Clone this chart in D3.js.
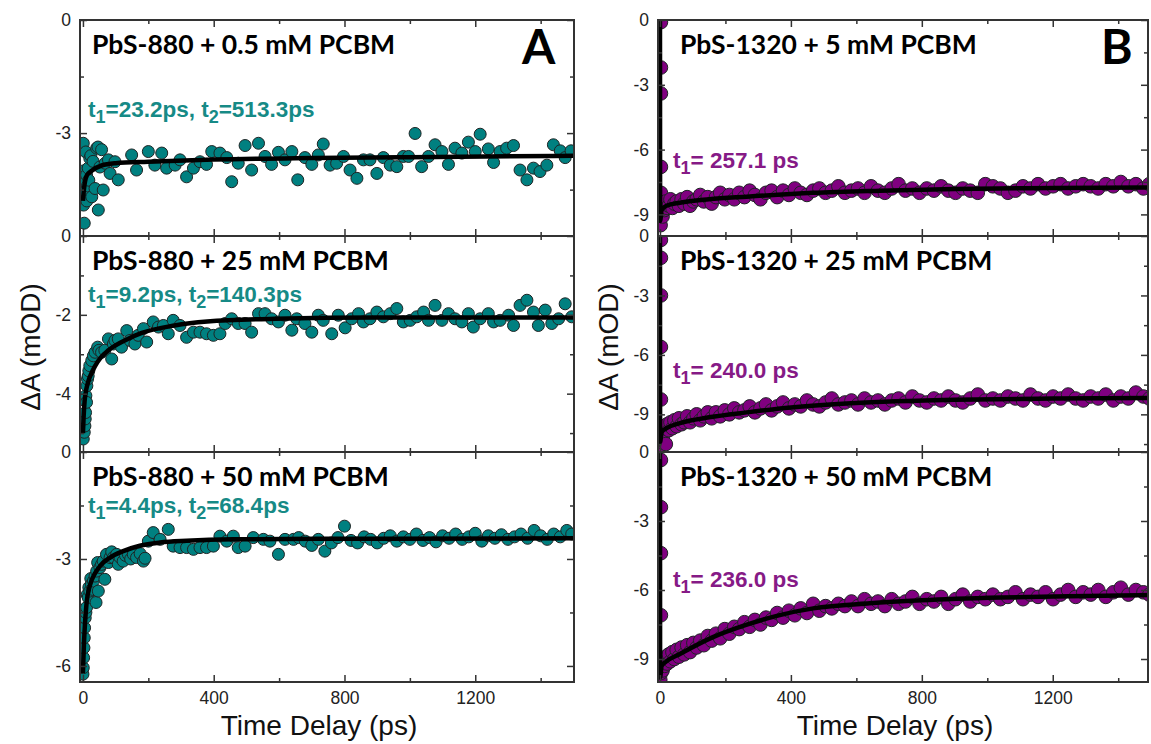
<!DOCTYPE html>
<html>
<head>
<meta charset="utf-8">
<script src="https://cdn.jsdelivr.net/npm/d3@7"></script>
<style>
  body { margin: 0; background: #fff; }
  .tick text { font-family: "Liberation Sans", Arial, sans-serif; font-size: 17.5px; fill: #222; }
  .tick line { stroke: #333; stroke-width: 1.5; }
  .domain { stroke: none; }
</style>
</head>
<body>
<script>
// ---- data ----
var titlesA = ["PbS-880 + 0.5 mM PCBM", "PbS-880 + 25 mM PCBM", "PbS-880 + 50 mM PCBM"];
var titlesB = ["PbS-1320 + 5 mM PCBM", "PbS-1320 + 25 mM PCBM", "PbS-1320 + 50 mM PCBM"];
var tau1A = ["23.2", "9.2", "4.4"];
var tau2A = ["513.3", "140.3", "68.4"];
var tau1B = ["257.1", "240.0", "236.0"];

var xTicks = [0, 400, 800, 1200];
var xMinor = [200, 600, 1000, 1400];

// y ticks for each subplot
var yTicksA = [[0, -3], [0, -2, -4], [0, -3, -6]];
var yMinorA = [[-1.5, -4.5], [-1, -3, -5], [-1.5, -4.5]];
var yDomainA = [[-5.73, 0], [-5.48, 0], [-6.45, 0]];
var yTicksB = [[0, -3, -6, -9], [0, -3, -6, -9], [0, -3, -6, -9]];
var yMinorB = [[-1.5, -4.5, -7.5], [-1.5, -4.5, -7.5, -10.5], [-1.5, -4.5, -7.5]];
var yDomainB = [[-10, 0], [-10.9, 0], [-10, 0]];

// panel A scatter (time ps, dA mOD)
var a1Points = [[0,-4.55],[1,-3.27],[2,-4.91],[3,-4.0],[4,-5.39],[6,-4.29],[7,-4.55],[9,-3.5],[11,-4.11],[12,-4.8],[14,-4.4],[16,-3.93],[18,-4.25],[21,-3.67],[24,-3.6],[27,-4.69],[31,-3.75],[37,-4.47],[42,-3.40],[46,-3.37],[47,-5.04],[52,-3.9],[57,-3.44],[62,-4.51],[68,-3.8],[78,-3.71],[83,-4.07],[98,-3.76],[108,-4.24],[149,-3.58],[164,-3.98],[200,-3.49],[220,-3.85],[241,-3.53],[256,-3.93],[282,-3.85],[297,-3.71],[317,-4.16],[338,-3.93],[358,-3.76],[378,-3.83],[394,-3.49],[419,-3.53],[440,-3.65],[455,-4.29],[475,-3.80],[496,-3.33],[516,-3.98],[537,-3.27],[557,-3.62],[577,-3.83],[598,-3.51],[618,-3.71],[639,-3.49],[657,-4.24],[679,-3.65],[700,-3.83],[720,-3.58],[735,-3.29],[756,-3.85],[776,-3.80],[797,-3.62],[817,-3.98],[838,-4.20],[858,-3.71],[878,-3.71],[899,-4.07],[919,-3.65],[940,-3.85],[960,-3.89],[980,-3.62],[996,-3.62],[1016,-3.01],[1036,-3.89],[1057,-3.62],[1077,-3.31],[1098,-3.49],[1118,-3.83],[1138,-3.40],[1159,-3.53],[1179,-3.24],[1200,-3.49],[1215,-3.03],[1240,-3.42],[1256,-3.78],[1276,-3.49],[1296,-3.40],[1317,-3.33],[1337,-3.98],[1358,-4.24],[1378,-3.93],[1398,-4.02],[1419,-3.85],[1439,-3.31],[1460,-3.47],[1475,-3.65],[1493,-3.47]];
var a1Fit = [[0,-4.8],[3,-4.5],[6,-4.3],[12,-4.12],[27,-4.0],[57,-3.86],[100,-3.8],[200,-3.76],[400,-3.7],[700,-3.66],[1000,-3.64],[1500,-3.6]];

var a2Points = [[1,-5.15],[4,-4.98],[6,-4.82],[7,-4.64],[8,-4.48],[9,-4.05],[11,-4.22],[12,-3.80],[14,-3.63],[16,-3.55],[18,-3.42],[21,-3.29],[27,-3.16],[32,-3.04],[37,-2.95],[45,-2.82],[49,-2.90],[57,-2.95],[67,-2.90],[78,-2.61],[88,-3.12],[93,-2.74],[98,-2.65],[108,-2.61],[118,-2.82],[134,-2.40],[144,-2.65],[159,-2.74],[169,-2.52],[185,-2.35],[195,-2.69],[215,-2.18],[231,-2.31],[246,-2.27],[261,-2.48],[276,-2.14],[297,-2.27],[317,-2.57],[338,-2.44],[358,-2.44],[378,-2.48],[399,-2.52],[419,-2.48],[435,-2.22],[455,-2.10],[475,-2.22],[496,-2.22],[516,-2.44],[537,-1.97],[557,-1.97],[577,-2.10],[598,-2.18],[618,-2.01],[639,-2.39],[654,-2.10],[679,-2.22],[700,-2.44],[720,-2.01],[735,-2.14],[761,-2.48],[781,-2.01],[802,-2.33],[822,-2.10],[843,-1.97],[858,-2.18],[878,-2.10],[899,-1.93],[919,-2.05],[940,-1.97],[960,-1.84],[980,-2.18],[1001,-2.14],[1021,-2.05],[1042,-1.93],[1057,-2.14],[1077,-1.76],[1098,-2.14],[1118,-1.97],[1138,-2.10],[1159,-2.18],[1179,-1.97],[1194,-2.31],[1215,-2.10],[1240,-1.97],[1256,-2.18],[1276,-2.14],[1302,-2.01],[1317,-2.27],[1337,-1.76],[1358,-1.63],[1378,-1.93],[1393,-2.27],[1414,-1.88],[1434,-2.22],[1455,-2.10],[1475,-1.72],[1495,-2.05]];
var a2Fit = [[0,-5.0],[2,-4.6],[5,-4.2],[10,-3.9],[16,-3.7],[25,-3.5],[37,-3.3],[55,-3.08],[78,-2.9],[128,-2.65],[180,-2.46],[280,-2.27],[380,-2.17],[590,-2.1],[900,-2.07],[1500,-2.07]];

var a3Points = [[0,-6.23],[1,-6.05],[2,-5.77],[3,-5.49],[4,-5.21],[5,-4.93],[7,-4.65],[9,-4.5],[11,-4.36],[13,-4.0],[16,-4.08],[18,-3.8],[21,-3.90],[24,-3.55],[26,-3.71],[28,-3.85],[32,-3.62],[37,-3.48],[40,-4.22],[42,-3.34],[45,-3.1],[47,-3.90],[52,-3.24],[57,-3.15],[62,-3.06],[67,-3.57],[72,-2.87],[78,-3.1],[83,-2.96],[88,-2.8],[93,-2.96],[103,-2.87],[108,-3.15],[113,-2.95],[123,-3.06],[130,-2.9],[139,-2.87],[146,-3.0],[154,-2.87],[164,-2.96],[175,-2.85],[185,-3.06],[190,-2.98],[200,-2.50],[215,-2.26],[236,-2.45],[261,-2.17],[276,-2.64],[297,-2.68],[317,-2.68],[338,-2.73],[358,-2.68],[378,-2.68],[399,-2.64],[419,-2.36],[440,-2.50],[460,-2.36],[475,-2.68],[496,-2.64],[521,-2.40],[552,-2.45],[572,-2.50],[598,-2.87],[618,-2.45],[644,-2.45],[660,-2.40],[680,-2.50],[700,-2.62],[720,-2.45],[740,-2.78],[760,-2.55],[780,-2.40],[800,-2.08],[820,-2.48],[840,-2.55],[860,-2.38],[880,-2.45],[900,-2.55],[920,-2.42],[940,-2.35],[960,-2.50],[980,-2.38],[1000,-2.45],[1020,-2.30],[1040,-2.48],[1060,-2.40],[1080,-2.52],[1100,-2.35],[1120,-2.42],[1140,-2.30],[1160,-2.45],[1180,-2.38],[1200,-2.28],[1220,-2.50],[1240,-2.35],[1260,-2.42],[1280,-2.32],[1300,-2.45],[1320,-2.38],[1340,-2.30],[1360,-2.42],[1380,-2.20],[1400,-2.35],[1420,-2.45],[1440,-2.30],[1460,-2.38],[1480,-2.20],[1495,-2.30]];
var a3Fit = [[0,-6.2],[3,-5.4],[6,-4.85],[11,-4.25],[21,-3.75],[37,-3.4],[52,-3.2],[83,-2.96],[123,-2.78],[174,-2.63],[236,-2.54],[317,-2.49],[460,-2.45],[900,-2.43],[1500,-2.42]];

// panel B: shared time grid for the dense band, plus the early spike points
var tBand = [1,2,4,6,8,11,14,18,22,27,32,38,44,51,58,66,74,83,92,102,112,123,134,146,158,171,184,198,212,227,242,258,274,290,307,324,341,358,376,394,412,430,449,468,487,506,525,545,565,585,605,625,645,666,687,708,729,750,771,793,815,837,859,881,903,925,948,971,994,1017,1040,1063,1086,1109,1132,1155,1178,1201,1224,1247,1270,1293,1316,1339,1362,1385,1408,1431,1454,1477,1495];
var b1Band = [-9.2,-9.5,-8.9,-8.7,-9.1,-8.5,-8.8,-8.4,-8.7,-8.6,-8.3,-8.7,-8.5,-8.4,-8.6,-8.3,-8.5,-8.2,-8.6,-8.4,-8.3,-8.1,-8.4,-8.2,-8.5,-8.2,-8.0,-8.3,-8.1,-8.3,-8.0,-8.2,-7.9,-8.1,-8.3,-8.0,-7.9,-8.2,-7.9,-8.1,-7.8,-8.0,-8.1,-7.9,-7.8,-8.0,-7.9,-7.7,-8.0,-7.9,-7.8,-8.0,-7.7,-7.9,-8.0,-7.8,-7.6,-7.9,-7.8,-8.0,-7.8,-7.9,-7.7,-7.9,-8.0,-7.8,-7.9,-8.0,-7.6,-7.7,-7.8,-8.0,-7.9,-7.7,-7.8,-7.6,-7.8,-7.7,-7.6,-7.8,-7.7,-7.6,-7.7,-7.8,-7.6,-7.7,-7.5,-7.7,-7.6,-7.8,-7.6];
var b2Band = [-10.6,-10.2,-9.9,-10.4,-9.6,-10.0,-9.7,-10.5,-9.5,-9.8,-9.4,-9.7,-9.3,-9.6,-9.2,-9.5,-9.4,-9.1,-9.4,-9.2,-9.0,-9.3,-9.1,-8.9,-9.2,-8.9,-9.1,-8.8,-9.0,-8.7,-8.9,-8.8,-8.6,-8.9,-8.7,-8.5,-8.8,-8.6,-8.4,-8.7,-8.5,-8.6,-8.3,-8.5,-8.6,-8.4,-8.2,-8.5,-8.4,-8.3,-8.5,-8.2,-8.4,-8.3,-8.5,-8.3,-8.2,-8.4,-8.1,-8.3,-8.4,-8.2,-8.3,-8.1,-8.3,-8.4,-8.2,-8.0,-8.3,-8.2,-8.3,-8.1,-8.2,-8.3,-8.0,-8.2,-8.3,-8.1,-8.2,-8.0,-8.2,-8.3,-8.1,-8.2,-8.0,-8.3,-8.1,-8.2,-7.9,-8.1,-8.2];
var b3Band = [-9.9,-9.4,-9.6,-9.1,-9.5,-9.0,-9.3,-8.9,-9.2,-8.8,-9.1,-8.7,-9.0,-8.6,-8.9,-8.5,-8.8,-8.4,-8.7,-8.3,-8.5,-8.2,-8.4,-8.0,-8.2,-7.9,-8.1,-7.7,-7.9,-7.6,-7.7,-7.4,-7.6,-7.3,-7.5,-7.2,-7.3,-7.0,-7.2,-6.9,-7.1,-6.8,-7.0,-6.6,-6.9,-6.7,-6.8,-6.6,-6.7,-6.5,-6.7,-6.4,-6.6,-6.5,-6.7,-6.4,-6.6,-6.5,-6.3,-6.6,-6.4,-6.5,-6.3,-6.6,-6.4,-6.2,-6.5,-6.3,-6.4,-6.2,-6.4,-6.3,-6.1,-6.4,-6.2,-6.3,-6.1,-6.4,-6.2,-6.0,-6.3,-6.1,-6.2,-6.0,-6.3,-6.1,-5.9,-6.2,-6.0,-6.1,-6.2];
var b1Spike = [[3,-0.1],[3,-2.2],[3,-3.4],[3,-6.8],[3,-8.0]];
var b2Spike = [[3,-0.2],[3,-1.1],[3,-3.0],[3,-5.6],[3,-8.25]];
var b3Spike = [[3,-0.35],[3,-2.4],[3,-4.4],[3,-7.1]];
var b1Fit = [[-6,0],[0,0],[0.5,-9.3],[5,-8.8],[20,-8.6],[61,-8.46],[150,-8.3],[265,-8.18],[468,-8.0],[672,-7.9],[900,-7.82],[1200,-7.78],[1500,-7.75]];
var b2Fit = [[-6,0],[0,0],[0.5,-10.4],[5,-9.9],[20,-9.7],[61,-9.44],[150,-9.15],[265,-8.9],[400,-8.65],[570,-8.45],[700,-8.35],[900,-8.26],[1200,-8.2],[1500,-8.17]];
var b3Fit = [[-6,0],[0,0],[0.5,-9.8],[5,-9.3],[20,-9.1],[61,-8.78],[162,-8.05],[263,-7.52],[366,-7.09],[468,-6.8],[641,-6.58],[800,-6.45],[1040,-6.33],[1250,-6.27],[1500,-6.22]];

// ---- layout ----
var svg = d3.select("body").append("svg")
  .attr("width", 1151)
  .attr("height", 744);

var rowTops = [20, 236, 452];
var rowBottoms = [236, 452, 682];

var teal = "#008080", purple = "#800080";

function bandPoints(spike, band) {
  return spike.concat(tBand.map(function(t, i) { return [t, band[i]]; }).filter(function(d) { return d[1] !== undefined; }));
}

var subplots = [
  {left: 80, right: 574, xDomain: [-9, 1502], row: 0, pts: a1Points, fit: a1Fit, color: teal, r: 6},
  {left: 80, right: 574, xDomain: [-9, 1502], row: 1, pts: a2Points, fit: a2Fit, color: teal, r: 6},
  {left: 80, right: 574, xDomain: [-9, 1502], row: 2, pts: a3Points, fit: a3Fit, color: teal, r: 6},
  {left: 658, right: 1148, xDomain: [-6, 1491], row: 0, pts: bandPoints(b1Spike, b1Band), fit: b1Fit, color: purple, r: 6.8},
  {left: 658, right: 1148, xDomain: [-6, 1491], row: 1, pts: bandPoints(b2Spike, b2Band), fit: b2Fit, color: purple, r: 6.8},
  {left: 658, right: 1148, xDomain: [-6, 1491], row: 2, pts: bandPoints(b3Spike, b3Band), fit: b3Fit, color: purple, r: 6.8}
];

var plainFormat = d => String(d);

subplots.forEach(function(s, i) {
  var isA = i < 3;
  var top = rowTops[s.row], bottom = rowBottoms[s.row];
  var yDom = isA ? yDomainA[s.row] : yDomainB[s.row];
  var yTk = isA ? yTicksA[s.row] : yTicksB[s.row];
  var yMn = isA ? yMinorA[s.row] : yMinorB[s.row];

  var x = d3.scaleLinear().domain(s.xDomain).range([s.left, s.right]);
  var y = d3.scaleLinear().domain(yDom).range([bottom, top]);

  var g = svg.append("g");
  var clipId = "clip" + i;
  svg.append("clipPath").attr("id", clipId)
    .append("rect")
    .attr("x", s.left).attr("y", top)
    .attr("width", s.right - s.left).attr("height", bottom - top);

  var plot = g.append("g").attr("clip-path", "url(#" + clipId + ")");

  plot.selectAll("circle")
    .data(s.pts)
    .enter()
    .append("circle")
    .attr("cx", d => x(d[0]))
    .attr("cy", d => y(d[1]))
    .attr("r", s.r)
    .attr("fill", s.color)
    .attr("stroke", "#1e2424")
    .attr("stroke-width", 1);

  var line = d3.line()
    .x(d => x(d[0]))
    .y(d => y(d[1]))
    .curve(d3.curveMonotoneX);

  plot.append("path")
    .datum(s.fit)
    .attr("d", line)
    .attr("fill", "none")
    .attr("stroke", "#000")
    .attr("stroke-width", 4.5);

  // y ticks, inward on both sides
  g.append("g")
    .attr("transform", `translate(${s.left},0)`)
    .call(d3.axisLeft(y).tickValues(yTk).tickSizeInner(-7).tickSizeOuter(0).tickPadding(9).tickFormat(plainFormat));
  g.append("g")
    .attr("transform", `translate(${s.left},0)`)
    .call(d3.axisLeft(y).tickValues(yMn).tickSizeInner(-4).tickSizeOuter(0).tickFormat(""));
  g.append("g")
    .attr("transform", `translate(${s.right},0)`)
    .call(d3.axisRight(y).tickValues(yTk).tickSizeInner(-7).tickSizeOuter(0).tickFormat(""));
  g.append("g")
    .attr("transform", `translate(${s.right},0)`)
    .call(d3.axisRight(y).tickValues(yMn).tickSizeInner(-4).tickSizeOuter(0).tickFormat(""));

  // x ticks top and bottom
  var showX = s.row === 2;
  g.append("g")
    .attr("transform", `translate(0,${bottom})`)
    .call(d3.axisBottom(x).tickValues(xTicks).tickSizeInner(-7).tickSizeOuter(0).tickPadding(10)
      .tickFormat(showX ? plainFormat : ""));
  g.append("g")
    .attr("transform", `translate(0,${bottom})`)
    .call(d3.axisBottom(x).tickValues(xMinor).tickSizeInner(-4).tickSizeOuter(0).tickFormat(""));
  g.append("g")
    .attr("transform", `translate(0,${top})`)
    .call(d3.axisTop(x).tickValues(xTicks).tickSizeInner(-7).tickSizeOuter(0).tickFormat(""));
  g.append("g")
    .attr("transform", `translate(0,${top})`)
    .call(d3.axisTop(x).tickValues(xMinor).tickSizeInner(-4).tickSizeOuter(0).tickFormat(""));

  // frame
  g.append("rect")
    .attr("x", s.left).attr("y", top)
    .attr("width", s.right - s.left).attr("height", bottom - top)
    .attr("fill", "none")
    .attr("stroke", "#333")
    .attr("stroke-width", 2);

  // sample title
  g.append("text")
    .attr("x", isA ? s.left + 12 : s.left + 22)
    .attr("y", top + 34)
    .attr("font-family", "Lato, 'Open Sans', sans-serif")
    .attr("font-weight", 700)
    .attr("font-size", "26.5px")
    .attr("fill", "#000")
    .text(isA ? titlesA[s.row] : titlesB[s.row]);

  // lifetime annotation
  var noteY = isA ? [117, 302, 513][s.row] : [168, 378, 587][s.row];
  var note = g.append("text")
    .attr("x", isA ? s.left + 8 : s.left + 15)
    .attr("y", noteY)
    .attr("font-family", "'Liberation Sans', Arial, sans-serif")
    .attr("font-weight", 700)
    .attr("font-size", "22.5px")
    .attr("fill", isA ? "#168a86" : "#861a86");
  note.append("tspan").text("t");
  note.append("tspan").attr("dy", 6).attr("font-size", "18px").text("1");
  if (isA) {
    note.append("tspan").attr("dy", -6).text("=" + tau1A[s.row] + "ps, t");
    note.append("tspan").attr("dy", 6).attr("font-size", "18px").text("2");
    note.append("tspan").attr("dy", -6).text("=" + tau2A[s.row] + "ps");
  } else {
    note.append("tspan").attr("dy", -6).text("= " + tau1B[s.row] + " ps");
  }
});

// panel letters
svg.append("text")
  .attr("x", 522).attr("y", 64)
  .attr("font-family", "Lato, 'Open Sans', sans-serif")
  .attr("font-weight", 700).attr("font-size", "48px")
  .text("A");
svg.append("text")
  .attr("x", 1101).attr("y", 64)
  .attr("font-family", "Lato, 'Open Sans', sans-serif")
  .attr("font-weight", 700).attr("font-size", "48px")
  .text("B");

// axis titles
[[30, 80, 574], [608, 658, 1148]].forEach(function(p) {
  svg.append("text")
    .attr("transform", `translate(${p[0] + 10},347) rotate(-90)`)
    .attr("text-anchor", "middle")
    .attr("font-family", "'Liberation Sans', Arial, sans-serif")
    .attr("font-size", "28px")
    .attr("fill", "#111")
    .text("\u0394A (mOD)");
  svg.append("text")
    .attr("x", (p[1] + p[2]) / 2 - 8)
    .attr("y", 735)
    .attr("text-anchor", "middle")
    .attr("font-family", "'Liberation Sans', Arial, sans-serif")
    .attr("font-size", "28px")
    .attr("fill", "#111")
    .text("Time Delay (ps)");
});
</script>
</body>
</html>
